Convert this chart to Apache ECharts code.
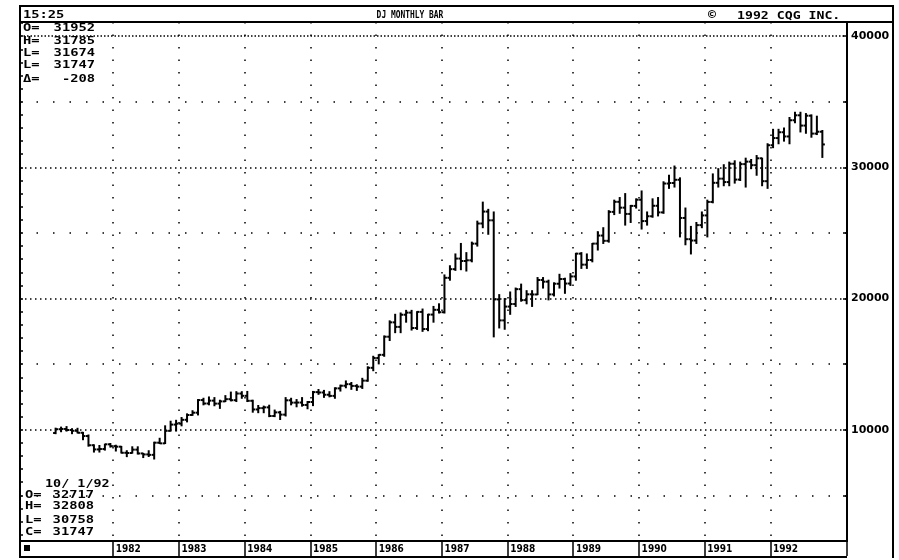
<!DOCTYPE html>
<html>
<head>
<meta charset="utf-8">
<title>DJ MONTHLY BAR</title>
<script src="https://cdn.jsdelivr.net/npm/echarts@6/dist/echarts.min.js"></script>
<style>
  html, body { margin: 0; padding: 0; background: #fff; }
  #chart { width: 899px; height: 560px; }
</style>
</head>
<body>
<div id="chart"></div>
<script>
// Monthly OHLC of the Dow Jones average (quoted x10), Feb 1981 .. Oct 1992.
const firstBarMonth = '1981-02';

const opens = [
  9750, 10040, 10060, 9980, 9920, 9770, 9520, 8820, 8500, 8530, 8890,
  8750, 8710, 8244, 8228, 8484, 8195, 8119, 8086, 9013, 8963, 9917, 10393,
  10465, 10757, 11126, 11300, 12262, 12000, 12220, 11992, 12162, 12331, 12252, 12760,
  12586, 12206, 11546, 11649, 11707, 11048, 11324, 11153, 12244, 12067, 12074, 11889,
  12116, 12868, 12840, 12668, 12581, 13154, 13355, 13474, 13340, 13286, 13743, 14721,
  15467, 15710, 17091, 18186, 17840, 18767, 18927, 17753, 18983, 17676, 18778, 19142,
  18960, 21580, 22240, 23047, 22864, 22916, 24185, 25721, 26630, 25963, 19935, 18336,
  19388, 19582, 20716, 19881, 20323, 20311, 21417, 21287, 20317, 21129, 21487, 21145,
  21686, 23423, 22584, 22936, 24188, 24802, 24401, 26607, 27373, 26928, 26451, 27063,
  27532, 25905, 26273, 27072, 26568, 28767, 28807, 29052, 26144, 24525, 24423, 25597,
  26337, 27364, 28822, 29139, 28879, 30275, 29068, 30248, 30436, 30168, 30691, 28947,
  31688, 32234, 32677, 32355, 33591, 33969, 33185, 33938, 32574, 32717
];

const highs = [
  10120, 10200, 10240, 10080, 10110, 9800, 9600, 8850, 8800, 8900, 8950,
  8820, 8730, 8400, 8700, 8700, 8200, 8400, 9050, 9350, 10300, 10650, 10720,
  10930, 11210, 11450, 12300, 12400, 12500, 12450, 12250, 12600, 12870, 12900, 12900,
  12920, 12250, 11850, 11800, 11870, 11500, 11400, 12450, 12400, 12300, 12450, 12150,
  12920, 13070, 13000, 12900, 13200, 13400, 13720, 13600, 13430, 13920, 14800, 15600,
  15720, 17150, 18300, 18800, 18900, 19100, 19100, 19000, 19200, 18800, 19400, 19600,
  21800, 22500, 23400, 24200, 23500, 24300, 25900, 27350, 26800, 26600, 20300, 20000,
  20500, 20800, 21100, 20600, 20600, 21600, 21600, 21400, 21200, 21850, 21550, 21900,
  23450, 23500, 23400, 24200, 25100, 25400, 26700, 27500, 27700, 28000, 27100, 27600,
  28200, 26600, 27600, 27700, 28900, 29400, 30100, 29200, 26900, 25500, 25800, 26600,
  27500, 29500, 29900, 30200, 30400, 30500, 30400, 30700, 30600, 30900, 30700, 31800,
  32900, 32900, 33000, 33800, 34200, 34200, 34100, 34000, 33900, 32808
];

const lows = [
  9700, 9850, 9900, 9700, 9760, 9240, 8750, 8300, 8300, 8450, 8680,
  8380, 8230, 7950, 8220, 8150, 7880, 7960, 7770, 8950, 8950, 9900, 9900,
  10300, 10600, 11100, 11130, 11900, 11900, 11830, 11630, 12150, 12200, 12150, 12400,
  12150, 11340, 11300, 11300, 11000, 11000, 10780, 11050, 11900, 11750, 11800, 11600,
  11840, 12700, 12470, 12510, 12400, 12950, 13200, 13080, 13000, 13150, 13700, 14500,
  15020, 15600, 16800, 17400, 17400, 18200, 17600, 17650, 17500, 17550, 18200, 18900,
  18900, 21400, 22150, 22200, 22100, 22800, 24000, 25400, 24900, 17080, 17760, 17660,
  18800, 19400, 19800, 19600, 19400, 20300, 20800, 19900, 20200, 20800, 20400, 21000,
  21400, 22300, 22300, 22800, 23700, 24200, 24300, 26400, 26500, 25600, 25800, 26900,
  25300, 25600, 26200, 26300, 26500, 28400, 28500, 24700, 24100, 23400, 24200, 25400,
  24700, 27300, 28500, 28600, 28600, 28800, 29000, 28500, 29900, 29400, 28600, 28400,
  31500, 31800, 32000, 31800, 33400, 32700, 32600, 32300, 32500, 30758
];

const closes = [
  10040, 10060, 9980, 9920, 9770, 9520, 8820, 8500, 8530, 8890, 8750,
  8710, 8244, 8228, 8484, 8195, 8119, 8086, 9013, 8963, 9917, 10393, 10465,
  10757, 11126, 11300, 12262, 12000, 12220, 11992, 12162, 12331, 12252, 12760, 12586,
  12206, 11546, 11649, 11707, 11048, 11324, 11153, 12244, 12067, 12074, 11889, 12116,
  12868, 12840, 12668, 12581, 13154, 13355, 13474, 13340, 13286, 13743, 14721, 15467,
  15710, 17091, 18186, 17840, 18767, 18927, 17753, 18983, 17676, 18778, 19142, 18960,
  21580, 22240, 23047, 22864, 22916, 24185, 25721, 26630, 25963, 19935, 18336, 19388,
  19582, 20716, 19881, 20323, 20311, 21417, 21287, 20317, 21129, 21487, 21145, 21686,
  23423, 22584, 22936, 24188, 24802, 24401, 26607, 27373, 26928, 26451, 27063, 27532,
  25905, 26273, 27072, 26568, 28767, 28807, 29052, 26144, 24525, 24423, 25597, 26337,
  27364, 28822, 29139, 28879, 30275, 29068, 30248, 30436, 30168, 30691, 28947, 31688,
  32234, 32677, 32355, 33591, 33969, 33185, 33938, 32574, 32717, 31747
];

// Price scale tick labels and grid levels
const yLabelValues = [10000, 20000, 30000, 40000];
const yHalfLevels = [5000, 15000, 25000, 35000];
const yMin = 1520;
const yMax = 41080;
const labeledYears = [1982, 1983, 1984, 1985, 1986, 1987, 1988, 1989, 1990, 1991, 1992];

// Quote boxes
const headerQuote = [['O=', '31952'], ['H=', '31785'], ['L=', '31674'], ['L=', '31747'], ['\u0394=', '-208']];
const lastBarDate = '10/ 1/92';
const lastBarQuote = [['O=', '32717'], ['H=', '32808'], ['L=', '30758'], ['C=', '31747']];

// Month categories of the time axis (Aug 1980 .. Feb 1993)
const months = [];
for (let y = 1980, m = 8; !(y === 1993 && m === 3);) {
  months.push(y + '-' + String(m).padStart(2, '0'));
  m += 1;
  if (m > 12) { m = 1; y += 1; }
}
const startIdx = months.indexOf(firstBarMonth);
const bars = opens.map((o, i) => [months[startIdx + i], o, highs[i], lows[i], closes[i]]);

function isYearStart(index, value) {
  const parts = String(value).split('-');
  return parts[1] === '01' && labeledYears.indexOf(+parts[0]) >= 0;
}

const leftTicks = [];
for (let v = 2000; v <= 41000; v += 1000) leftTicks.push(v);
const rightTicks = yHalfLevels.concat(yLabelValues).sort((a, b) => a - b);

const MONO = '"DejaVu Sans Mono", "Liberation Mono", monospace';

function txt(str, x, y, align, font, sx) {
  return {
    type: 'text', x: x, y: y, scaleX: sx || 1, silent: true, z: 10,
    style: {
      text: str, font: font, fill: '#000',
      textAlign: align, textVerticalAlign: 'middle',
      align: align, verticalAlign: 'middle'
    }
  };
}
function seg(x1, y1, x2, y2, w) {
  return {
    type: 'line', silent: true, z: 10,
    shape: { x1: x1, y1: y1, x2: x2, y2: y2 },
    style: { stroke: '#000', lineWidth: w || 2 }
  };
}

const statFont = 'bold 11px ' + MONO;
const graphics = [
  // frame around banner and price column
  seg(19, 6, 894, 6, 2),
  seg(20, 5, 20, 558, 2),
  seg(893, 5, 893, 558, 2),
  seg(20, 22, 893, 22, 2),
  seg(20, 557, 847, 557, 2),
  // banner texts
  txt('15:25', 23, 15, 'left', statFont, 1.25),
  txt('DJ MONTHLY BAR', 410, 15, 'center', 'bold 11px ' + MONO, 0.72),
  txt('\u00A9', 712, 16, 'center', 'bold 12px ' + MONO, 1.1),
  txt('1992 CQG INC.', 737, 16, 'left', statFont, 1.2),
  // marker at the left of the date strip
  { type: 'rect', silent: true, z: 10, shape: { x: 24, y: 545, width: 6, height: 6 }, style: { fill: '#000' } },
  txt(lastBarDate, 45, 484, 'left', statFont, 1.22)
];
headerQuote.forEach((q, i) => {
  const ys = [28, 41, 53, 65, 79];
  graphics.push(txt(q[0], 23, ys[i], 'left', statFont, 1.25));
  graphics.push(txt(q[1], 95, ys[i], 'right', statFont, 1.25));
});
lastBarQuote.forEach((q, i) => {
  const ys = [495, 506, 520, 532];
  graphics.push(txt(q[0], 25, ys[i], 'left', statFont, 1.25));
  graphics.push(txt(q[1], 94, ys[i], 'right', statFont, 1.25));
});

const chart = echarts.init(document.getElementById('chart'), null, { renderer: 'canvas' });

chart.setOption({
  animation: false,
  backgroundColor: '#fff',
  grid: {
    left: 20, right: 52, top: 22, bottom: 19,
    show: true, borderColor: '#000', borderWidth: 2, backgroundColor: 'transparent'
  },
  xAxis: {
    type: 'category',
    data: months,
    boundaryGap: true,
    axisLine: { show: true, lineStyle: { color: '#000', width: 2 } },
    axisTick: {
      show: true, interval: isYearStart, length: 15, inside: false,
      lineStyle: { color: '#000', width: 1.5 }
    },
    axisLabel: {
      show: true, interval: isYearStart, margin: 3, align: 'left',
      color: '#000', fontFamily: '"DejaVu Sans Condensed", "DejaVu Sans", sans-serif',
      fontWeight: 'bold', fontSize: 10, lineHeight: 11,
      formatter: v => v.slice(0, 4)
    },
    splitLine: {
      show: true, interval: isYearStart,
      lineStyle: { color: '#000', width: 1.5, type: [1.5, 11] }
    }
  },
  yAxis: [
    {
      type: 'value', position: 'right', min: yMin, max: yMax, scale: true,
      splitLine: { show: false },
      axisLine: { show: false },
      axisTick: {
        show: true, inside: true, length: 4, customValues: rightTicks,
        lineStyle: { color: '#000', width: 1.5 }
      },
      axisLabel: {
        show: true, customValues: yLabelValues, margin: 4, color: '#000',
        fontFamily: '"DejaVu Sans", sans-serif', fontWeight: 'bold', fontSize: 11,
        formatter: v => String(v)
      }
    },
    {
      type: 'value', position: 'left', min: yMin, max: yMax, scale: true,
      splitLine: { show: false },
      axisLine: { show: false },
      axisTick: {
        show: true, inside: true, length: 3, customValues: leftTicks,
        lineStyle: { color: '#000', width: 1.5 }
      },
      axisLabel: { show: false }
    }
  ],
  graphic: graphics,
  series: [
    {
      type: 'custom',
      name: 'DJ',
      xAxisIndex: 0,
      yAxisIndex: 0,
      data: bars,
      encode: { x: 0, y: [1, 2, 3, 4] },
      renderItem: function (params, api) {
        const xi = api.value(0);
        const o = api.coord([xi, api.value(1)]);
        const h = api.coord([xi, api.value(2)]);
        const l = api.coord([xi, api.value(3)]);
        const c = api.coord([xi, api.value(4)]);
        const w = 2.5;
        const st = { stroke: '#000', lineWidth: 2 };
        return {
          type: 'group',
          children: [
            { type: 'line', shape: { x1: h[0], y1: h[1] - 0.5, x2: l[0], y2: l[1] + 0.5 }, style: st },
            { type: 'line', shape: { x1: o[0] - w, y1: o[1], x2: o[0], y2: o[1] }, style: st },
            { type: 'line', shape: { x1: c[0], y1: c[1], x2: c[0] + w, y2: c[1] }, style: st }
          ]
        };
      },
      markLine: {
        silent: true,
        symbol: ['none', 'none'],
        label: { show: false },
        animation: false,
        data: yLabelValues.map(v => ({
          yAxis: v,
          lineStyle: { color: '#000', width: 1.5, type: v === 40000 ? [1.5, 2] : [1.5, 3.5] }
        })).concat(yHalfLevels.map(v => ({
          yAxis: v,
          lineStyle: { color: '#000', width: 1.5, type: [1.5, 15] }
        })))
      }
    }
  ]
});
</script>
</body>
</html>
